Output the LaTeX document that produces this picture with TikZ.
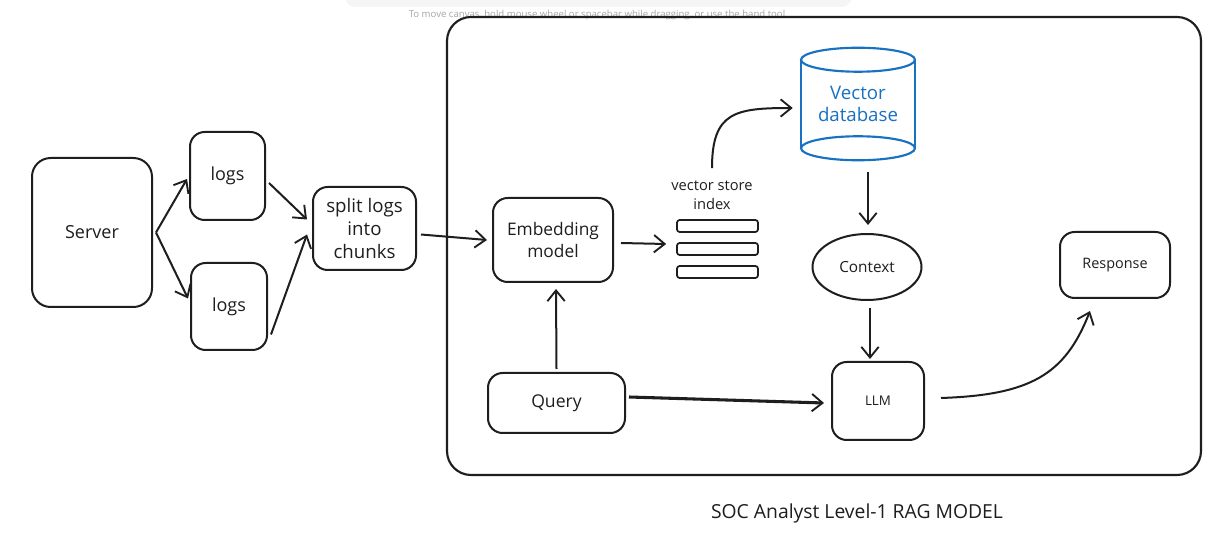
\documentclass[tikz,border=0pt]{standalone}
\usepackage{fontspec}
\setmainfont{Open Sans}
\usetikzlibrary{arrows.meta,calc,shapes.geometric}
\definecolor{ink}{HTML}{1E1E1E}
\definecolor{exblue}{HTML}{1971C2}
\begin{document}
\begin{tikzpicture}[x=0.75pt,y=-0.75pt,
  box/.style={draw=ink,line width=1.5pt,rounded corners=11pt,align=center,text=ink,inner sep=0pt},
  conn/.style={draw=ink,line width=1.5pt,-{Straight Barb[length=8pt,width=13pt,line width=1.4pt]}},
  cyl/.style={draw=exblue,line width=1.6pt},
  bar/.style={draw=ink,line width=1.3pt,rounded corners=2pt,minimum width=60.75pt,minimum height=9pt,inner sep=0pt},
]
\useasboundingbox (0,0) rectangle (1222,552);
\fill[white] (0,0) rectangle (1222,552);
% top toolbar shadow and hint
\fill[black!4,rounded corners=8pt] (345,-12) rectangle (852,7);
\node (hint) [text=black!35,font=\fontsize{7.2}{8}\selectfont] at (597,15) {To move canvas, hold mouse wheel or spacebar while dragging, or use the hand tool};
% container
\node (frame) [draw=ink,line width=1.6pt,rounded corners=18pt,minimum width=565.5pt,minimum height=343.5pt] at (824,246) {};
% nodes
\node (srv) [box,rounded corners=14pt,minimum width=90pt,minimum height=111.75pt,font=\fontsize{13.5}{16}\selectfont] at (92,232.5) {Server};
\node (logsA) [box,minimum width=56.25pt,minimum height=66pt,font=\fontsize{13.5}{16}\selectfont] at (227.5,176) {logs};
\node (logsB) [box,minimum width=57pt,minimum height=65.25pt,font=\fontsize{13.5}{16}\selectfont] at (229,306.5) {logs};
\node (split) [box,minimum width=77.25pt,minimum height=62.25pt,font=\fontsize{14}{17}\selectfont] at (364.5,228.5) {split logs\\into\\chunks};
\node (emb) [box,minimum width=90pt,minimum height=63pt,font=\fontsize{13}{16.5}\selectfont] at (553,240) {Embedding\\model};
\node (idx) [text=ink,align=center,font=\fontsize{11}{14}\selectfont] at (712,195) {vector store\\index};
\node (barA) [bar] at (717.5,226) {};
\node (barB) [bar] at (717.5,249) {};
\node (barC) [bar] at (717.5,272) {};
\node (vdb) [text=exblue,align=center,inner sep=0pt,minimum width=85.5pt,minimum height=84pt,font=\fontsize{14}{17}\selectfont] at (858,104) {Vector\\database};
\draw[cyl] ($(vdb.north)+(0,12)$) ellipse [x radius=42.75pt,y radius=9pt];
\draw[cyl] ($(vdb.south)+(0,-12)$) ellipse [x radius=42.75pt,y radius=9pt];
\draw[cyl] ($(vdb.north west)+(0,12)$) -- ($(vdb.south west)+(0,-12)$);
\draw[cyl] ($(vdb.north east)+(0,12)$) -- ($(vdb.south east)+(0,-12)$);
\node (ctx) [ellipse,draw=ink,line width=1.5pt,minimum width=81.75pt,minimum height=49.5pt,inner sep=0pt,text=ink,font=\fontsize{11.5}{13}\selectfont] at (867,267) {Context};
\node (resp) [box,minimum width=82.5pt,minimum height=49.5pt,font=\fontsize{10.8}{13}\selectfont] at (1115,265) {Response};
\node (query) [box,minimum width=102.75pt,minimum height=45pt,font=\fontsize{13.2}{15}\selectfont] at (556.5,403) {Query};
\node (llm) [box,minimum width=69pt,minimum height=58.5pt,font=\fontsize{10}{12}\selectfont] at (878,401) {LLM};
\node (title) [text=ink,font=\fontsize{14.5}{17}\selectfont] at (857,513) {SOC Analyst Level-1 RAG MODEL};
% connectors
\draw[conn] ($(srv.east)+(3,0)$) -- ($(logsA.west)+(-2,3)$);
\draw[conn] ($(srv.east)+(3,0)$) -- ($(logsB.west)+(-2,-8)$);
\draw[conn] ($(logsA.east)+(3,7)$) -- ($(split.west)+(-5,-9)$);
\draw[conn] ($(logsB.east)+(3,28)$) -- ($(split.west)+(-5,6)$);
\draw[conn] ($(split.east)+(4,6)$) -- ($(emb.west)+(-5,0)$);
\draw[conn] ($(emb.east)+(7,3)$) -- ($(barB.west)+(-10,-5)$);
\draw[conn] ($(idx.north)+(0,-8)$) .. controls (712,112) and (735,108) .. ($(vdb.west)+(-8,4)$);
\draw[conn] ($(vdb.south)+(10,12)$) -- ($(ctx.north)+(1,-8)$);
\draw[conn] ($(ctx.south)+(3,7)$) -- ($(llm.north)+(-8,-2)$);
\draw[conn] ($(query.north)+(0,-3)$) -- ($(emb.south)+(3,6)$);
\draw[conn,line width=2.3pt] ($(query.east)+(3,-6)$) -- ($(llm.west)+(-7,2)$);
\draw[conn] ($(llm.east)+(16,-3)$) .. controls (1030,395) and (1065,375) .. ($(resp.south)+(-25,12)$);
\end{tikzpicture}
\end{document}
